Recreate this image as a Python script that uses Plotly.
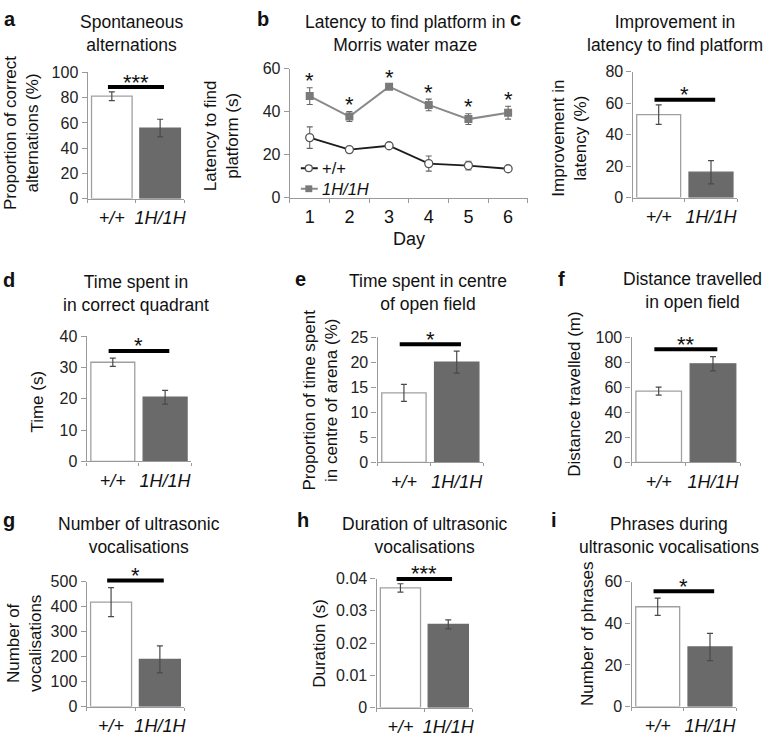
import plotly.graph_objects as go

W, H = 775, 741

# ---------------- data ----------------
genotypes = ["+/+", "1H/1H"]

# a: spontaneous alternations (%)
alt_mean = [81.2, 55.9]
alt_err = [3.5, 7.0]
alt_sig = 88.4

# b: latency to find platform (s)
days = [1, 2, 3, 4, 5, 6]
wt_latency = [27.9, 22.3, 24.1, 15.8, 14.9, 13.4]
wt_latency_err = [5.0, 1.0, 1.3, 3.5, 2.0, 1.0]
hom_latency = [47.2, 37.7, 51.6, 43.1, 36.5, 39.5]
hom_latency_err = [3.9, 2.3, 1.0, 2.7, 2.5, 3.0]

# c: improvement in latency (%)
impr_mean = [52.6, 16.1]
impr_err = [6.2, 7.4]
impr_sig = 62.0

# d: time in correct quadrant (s)
quad_mean = [31.7, 20.5]
quad_err = [1.3, 2.2]
quad_sig = 35.3

# e: time in centre (%)
centre_mean = [13.9, 20.05]
centre_err = [1.7, 2.2]
centre_sig = 23.6

# f: distance travelled (m)
dist_mean = [57.0, 78.8]
dist_err = [3.2, 5.7]
dist_sig = 90.4

# g: number of vocalisations
voc_mean = [418, 189]
voc_err = [58, 54]
voc_sig = 504

# h: duration of vocalisations (s)
dur_mean = [0.0371, 0.0258]
dur_err = [0.0013, 0.0014]
dur_sig = 0.0399

# i: number of phrases
phr_mean = [47.9, 28.6]
phr_err = [4.1, 6.5]
phr_sig = 55.3

# ---------------- layout helpers ----------------
FONT = "Liberation Sans, Arial, sans-serif"
AX_COL = "#9a9a9a"
WHITE_BAR = "#ffffff"
GRAY_BAR = "#6a6a6a"
WT_LINE = "#1c1c1c"
HOM_LINE = "#8a8a8a"
HOM_MARK = "#7a7a7a"


def px(x):
    return x / W


def py(y):
    return 1 - y / H


fig = go.Figure()
layout = dict(
    width=W, height=H, margin=dict(l=0, r=0, t=0, b=0),
    paper_bgcolor="white", plot_bgcolor="white",
    font=dict(family=FONT, color="#111"),
    showlegend=False,
    shapes=[], annotations=[],
)


def axname(n, kind):
    return f"{kind}axis" + ("" if n == 1 else str(n))


def ref(n, kind):
    return kind + ("" if n == 1 else str(n))


def yaxis_style(ymax, dtick, box):
    x0, x1, yt, yb = box
    return dict(
        domain=[py(yb), py(yt)], range=[0, ymax * 1.0001], dtick=dtick,
        tick0=0, showline=True, linecolor=AX_COL, linewidth=1.3,
        ticks="outside", ticklen=5, tickcolor=AX_COL, tickwidth=1.2,
        showgrid=False, zeroline=False, tickfont=dict(size=16, color="#222"),
    )


bar_panels = [
    # n, box(px: x0,x1,ytop,ybottom), means, errs, sig, stars, ymax, dtick
    (1, (88, 185, 66, 195), alt_mean, alt_err, alt_sig, "***", 100, 20),
    (3, (635, 740, 65, 194), impr_mean, impr_err, impr_sig, "*", 80, 20),
    (4, (87, 192, 336, 464), quad_mean, quad_err, quad_sig, "*", 40, 10),
    (5, (379, 485, 337, 465), centre_mean, centre_err, centre_sig, "*", 25, 5),
    (6, (634, 743, 337, 465), dist_mean, dist_err, dist_sig, "**", 100, 20),
    (7, (87, 185, 587, 715), voc_mean, voc_err, voc_sig, "*", 500, 100),
    (8, (378, 474, 584, 716), dur_mean, dur_err, dur_sig, "***", 0.04, 0.01),
    (9, (634, 739, 587, 715), phr_mean, phr_err, phr_sig, "*", 60, 20),
]

for n, box, means, errs, sig, stars, ymax, dtick in bar_panels:
    x0, x1, yt, yb = box
    fig.add_trace(go.Bar(
        x=[0, 1], y=means, width=0.84,
        marker=dict(color=[WHITE_BAR, GRAY_BAR],
                    line=dict(color=["#a0a0a0", GRAY_BAR], width=1.3)),
        error_y=dict(type="data", array=errs, color="#4a4a4a", thickness=1.2, width=3),
        xaxis=ref(n, "x"), yaxis=ref(n, "y"), showlegend=False,
    ))
    layout[axname(n, "x")] = dict(
        domain=[px(x0), px(x1)], anchor=ref(n, "y"), range=[-0.5, 1.5],
        tickmode="array", tickvals=[0, 1], ticktext=[f"<i>{g}</i>" for g in genotypes],
        showline=True, linecolor=AX_COL, linewidth=1.3, ticks="outside", ticklen=3,
        tickcolor="rgba(0,0,0,0)", showgrid=False, zeroline=False,
        tickfont=dict(size=18, color="#111"),
        minor=dict(tickmode="array", tickvals=[-0.5, 0.5, 1.5],
                   ticks="outside", ticklen=3, tickcolor=AX_COL, showgrid=False),
    )
    ya = yaxis_style(ymax, dtick, box)
    ya["anchor"] = ref(n, "x")
    layout[axname(n, "y")] = ya
    yd = sig / ymax
    layout["shapes"].append(dict(
        type="line", xref=ref(n, "x") + " domain", yref=ref(n, "y") + " domain",
        x0=(-0.08 + 0.5) / 2, x1=(1.08 + 0.5) / 2, y0=yd, y1=yd,
        line=dict(color="black", width=4),
    ))
    layout["annotations"].append(dict(
        xref=ref(n, "x") + " domain", yref=ref(n, "y") + " domain",
        x=0.5, y=yd, text=stars, showarrow=False, yanchor="middle", yshift=5,
        font=dict(size=22, color="#111"),
    ))

# ---------------- panel b: line chart ----------------
bbox = (291, 530, 62, 194)
fig.add_trace(go.Scatter(
    x=days, y=wt_latency, name=genotypes[0], mode="lines+markers",
    line=dict(color=WT_LINE, width=1.8),
    marker=dict(symbol="circle", size=8, color="white", line=dict(color="#555", width=1.3)),
    error_y=dict(type="data", array=wt_latency_err, color="#666", thickness=1.1, width=3),
    xaxis="x2", yaxis="y2",
))
fig.add_trace(go.Scatter(
    x=days, y=hom_latency, name=f"<i>{genotypes[1]}</i>", mode="lines+markers",
    line=dict(color=HOM_LINE, width=2),
    marker=dict(symbol="square", size=8, color=HOM_MARK),
    error_y=dict(type="data", array=hom_latency_err, color="#666", thickness=1.1, width=3),
    xaxis="x2", yaxis="y2",
))
layout["xaxis2"] = dict(
    domain=[px(bbox[0]), px(bbox[1])], anchor="y2", range=[0.5, 6.5],
    tickmode="array", tickvals=days, ticktext=[str(d) for d in days],
    showline=True, linecolor=AX_COL, linewidth=1.3, ticks="outside", ticklen=3,
    tickcolor="rgba(0,0,0,0)", showgrid=False, zeroline=False,
    tickfont=dict(size=18, color="#111"),
    minor=dict(tickmode="array", tickvals=[d + 0.5 for d in [0] + days],
               ticks="outside", ticklen=4, tickcolor=AX_COL, showgrid=False),
    title=dict(text="Day", font=dict(size=18, color="#111"), standoff=6),
)
yb2 = yaxis_style(60, 20, bbox)
yb2["anchor"] = "x2"
layout["yaxis2"] = yb2
for d, v, e in zip(days, hom_latency, hom_latency_err):
    layout["annotations"].append(dict(
        xref="x2", yref="y2", x=d, y=v + e, text="*", showarrow=False,
        yanchor="middle", yshift=7, font=dict(size=22, color="#111"),
    ))

# manual legend inside panel b (symbol box positions in px)
leg_rows = [
    (164, genotypes[0], "circle"),
    (185, f"<i>{genotypes[1]}</i>", "square"),
]
for yrow, label, sym in leg_rows:
    col = WT_LINE if sym == "circle" else HOM_LINE
    layout["shapes"].append(dict(
        type="line", xref="paper", yref="paper",
        x0=px(302), x1=px(319), y0=py(yrow), y1=py(yrow),
        line=dict(color=col, width=2),
    ))
    if sym == "circle":
        layout["shapes"].append(dict(
            type="circle", xref="paper", yref="paper",
            x0=px(306.5), x1=px(313.5), y0=py(yrow + 3.5), y1=py(yrow - 3.5),
            fillcolor="white", line=dict(color="#555", width=1.3),
        ))
    else:
        layout["shapes"].append(dict(
            type="rect", xref="paper", yref="paper",
            x0=px(306.5), x1=px(313.5), y0=py(yrow + 3.5), y1=py(yrow - 3.5),
            fillcolor=HOM_MARK, line=dict(color=HOM_MARK, width=0),
        ))
    layout["annotations"].append(dict(
        xref="paper", yref="paper", x=px(322), y=py(yrow), text=label,
        showarrow=False, xanchor="left", yanchor="middle", borderpad=0,
        font=dict(size=16.5, color="#111"),
    ))

# ---------------- texts ----------------
titles = [
    (132, 26, "Spontaneous<br>alternations"),
    (407, 26, "Latency to find platform in<br>Morris water maze"),
    (678, 26, "Improvement in<br>latency to find platform"),
    (137, 292, "Time spent in<br>in correct quadrant"),
    (430, 291, "Time spent in centre<br>of open field"),
    (695, 289, "Distance travelled<br>in open field"),
    (140, 540, "Number of ultrasonic<br>vocalisations"),
    (427, 540, "Duration of ultrasonic<br>vocalisations"),
    (672, 540, "Phrases during<br>ultrasonic vocalisations"),
]
for x, y, t in titles:
    layout["annotations"].append(dict(
        xref="paper", yref="paper", x=px(x), y=py(y), text=t, showarrow=False,
        xanchor="center", yanchor="middle", font=dict(size=17.5, color="#111"),
    ))

ytitles = [
    (21, 128, "Proportion of correct<br>alternations (%)"),
    (223, 131, "Latency to find<br>platform (s)"),
    (572, 133, "Improvement in<br>latency (%)"),
    (38, 403, "Time (s)"),
    (322, 401, "Proportion of time spent<br>in centre of arena (%)"),
    (577, 395, "Distance travelled (m)"),
    (24, 650, "Number of<br>vocalisations"),
    (320, 650, "Duration (s)"),
    (590, 640, "Number of phrases"),
]
for x, y, t in ytitles:
    layout["annotations"].append(dict(
        xref="paper", yref="paper", x=px(x), y=py(y), text=t, showarrow=False,
        textangle=-90, xanchor="center", yanchor="middle",
        font=dict(size=17, color="#111"),
    ))

letters = [
    (10, 11, "a"), (264, 11, "b"), (518, 11, "c"),
    (9, 278, "d"), (302, 277, "e"), (564, 277, "f"),
    (9, 524, "g"), (304, 524, "h"), (556, 524, "i"),
]
for x, y, t in letters:
    layout["annotations"].append(dict(
        xref="paper", yref="paper", x=px(x), y=py(y), text=f"<b>{t}</b>",
        showarrow=False, xanchor="center", yanchor="middle",
        font=dict(size=20, color="#111"),
    ))

fig.update_layout(**layout)
fig.write_html(
    "out.html",
    config={"displayModeBar": False},
    post_script="document.body.style.margin='0';",
)
